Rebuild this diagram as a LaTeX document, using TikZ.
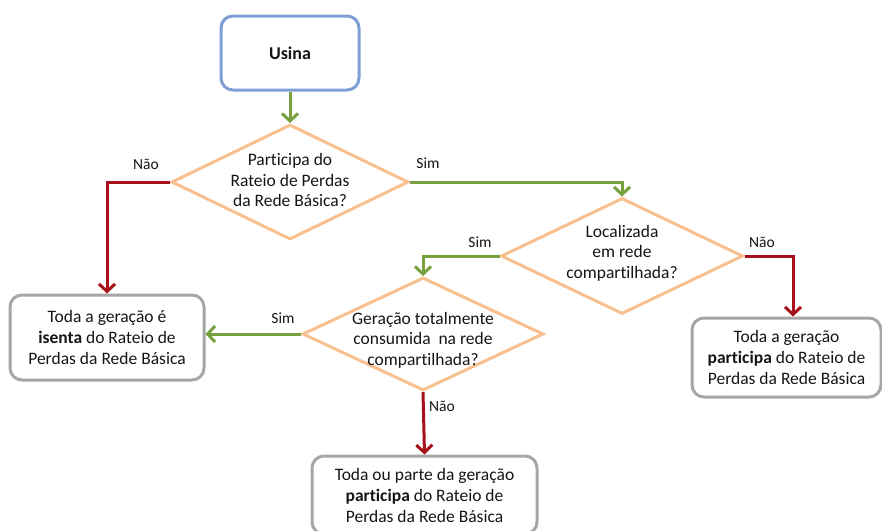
\documentclass[tikz,border=0pt]{standalone}
\usepackage{fontspec}
\setmainfont{Carlito}[Ligatures=NoCommon]
\usetikzlibrary{arrows.meta,shapes.geometric}
\definecolor{cgreen}{HTML}{78A03E}
\definecolor{cred}{HTML}{A8101A}
\definecolor{corange}{HTML}{F9BF8E}
\definecolor{cblue}{HTML}{7F9FD4}
\definecolor{cgray}{HTML}{A6A6A6}
\definecolor{ctxt}{HTML}{151515}
\begin{document}
\begin{tikzpicture}[x=1pt,y=-1pt,
  every node/.style={text=ctxt},
  boxtxt/.style={font=\fontsize{17.5}{21}\selectfont, align=center},
  decision/.style={diamond, draw=corange, line width=3pt, inner sep=0pt},
  dectxt/.style={font=\fontsize{17.5}{20.5}\selectfont, align=center},
  startbox/.style={draw=cblue, line width=3pt, rounded corners=12pt, minimum width=138pt, minimum height=74pt, font=\fontsize{18}{22}\selectfont\bfseries},
  endbox/.style={draw=cgray, line width=3pt, rounded corners=12pt, inner sep=0pt, boxtxt},
  garr/.style={draw=cgreen, line width=3pt, -{Straight Barb[length=7.5pt,width=16pt]}},
  rarr/.style={draw=cred, line width=3pt, -{Straight Barb[length=7.5pt,width=16pt]}},
  lbl/.style={font=\fontsize{15.5}{18}\selectfont}
]
\useasboundingbox (0,0) rectangle (882,530);
\clip (0,0) rectangle (882,530);

\node[startbox] (u) at (290,53) {Usina};

\node[decision, minimum width=237pt, minimum height=115pt] (d1) at (290,182) {};
\node[dectxt] (d1t) at (290,180) {Participa do\\Rateio de Perdas\\da Rede Básica?};

\node[decision, minimum width=242pt, minimum height=116pt] (d2) at (622,256) {};
\node[dectxt] (d2t) at (622,253) {Localizada\\em rede\\compartilhada?};

\node[decision, minimum width=241pt, minimum height=113pt] (d3) at (423,334) {};
\node[dectxt] (d3t) at (423,340) {Geração totalmente\\consumida\ \ na rede\\compartilhada?};

\node[endbox, minimum width=194pt, minimum height=85pt] (b1) at (107,337.5)
  {Toda a geração é\\\textbf{isenta} do Rateio de\\Perdas da Rede Básica};
\node[endbox, minimum width=189pt, minimum height=79pt] (b3) at (786.5,357.5)
  {Toda a geração\\\textbf{participa} do Rateio de\\Perdas da Rede Básica};
\node[endbox, minimum width=225pt, minimum height=78pt] (b4) at (424.5,495)
  {Toda ou parte da geração\\\textbf{participa} do Rateio de\\Perdas da Rede Básica};

\draw[garr] (u.south) -- (d1.north);
\draw[rarr] (d1.west) -| (b1.north);
\draw[garr] (d1.east) -| (d2.north);
\draw[garr] (d2.west) -| (d3.north);
\draw[rarr] (d2.east) -| ([xshift=6.5pt]b3.north);
\draw[garr] (d3.west) -- (d3.west -| b1.east);
\draw[rarr] (d3.south) -- (b4.north);

\node[lbl] (l1) at (146,164) {Não};
\node[lbl] (l2) at (428,163) {Sim};
\node[lbl] (l3) at (480,242) {Sim};
\node[lbl] (l4) at (762,242) {Não};
\node[lbl] (l5) at (283,318) {Sim};
\node[lbl] (l6) at (442,406) {Não};
\end{tikzpicture}
\end{document}
